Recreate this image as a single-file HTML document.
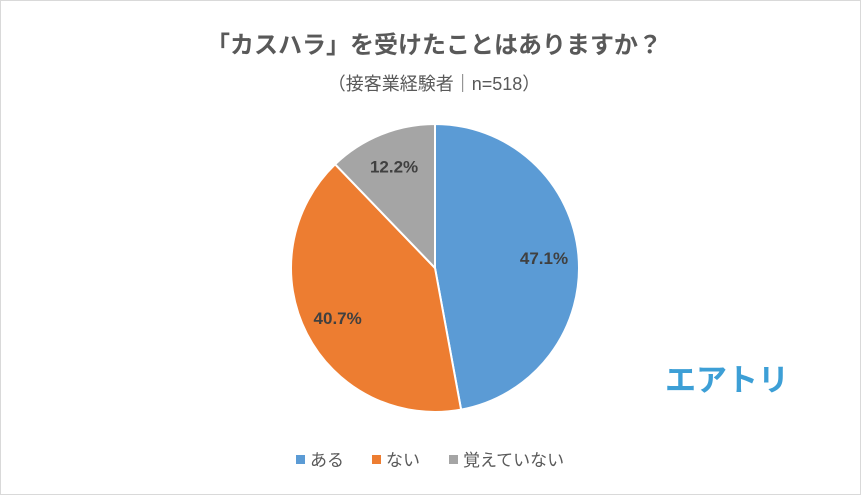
<!DOCTYPE html>
<html><head><meta charset="utf-8"><style>
html,body{margin:0;padding:0;background:#fff;}
svg{display:block;font-family:"Liberation Sans","Noto Sans CJK JP",sans-serif;}
</style></head><body>
<svg id="c" width="861" height="495" viewBox="0 0 861 495">
<rect x="0.5" y="0.5" width="860" height="494" fill="#fff" stroke="#d9d9d9"/>
<text x="434" y="53" text-anchor="middle" font-size="24" font-weight="bold" fill="#595959">「カスハラ」を受けたことはありますか？</text>
<text x="434" y="90" text-anchor="middle" font-size="18" fill="#595959">（接客業経験者｜n=518）</text>
<g id="slices"></g>
<g id="labels"></g>
<g id="legend"></g>
<text x="727" y="391" text-anchor="middle" font-size="31" font-weight="bold" fill="#3d9fd6">エアトリ</text>
</svg>
<script>
const categories=["ある","ない","覚えていない"];
const values=[47.1,40.7,12.2];
const colors=["#5b9bd5","#ed7d31","#a5a5a5"];
const cx=435,cy=268,r=144;
const ns="http://www.w3.org/2000/svg";
const total=values.reduce((a,b)=>a+b,0);
let a0=0;
const sg=document.getElementById('slices'),lg=document.getElementById('labels'),leg=document.getElementById('legend');
function pt(a,rr){return [cx+rr*Math.sin(a),cy-rr*Math.cos(a)];}
values.forEach((v,i)=>{
  const a1=a0+v/total*2*Math.PI;
  const p0=pt(a0,r),p1=pt(a1,r);
  const large=(a1-a0)>Math.PI?1:0;
  const p=document.createElementNS(ns,'path');
  p.setAttribute('d',`M${cx},${cy}L${p0[0]},${p0[1]}A${r},${r} 0 ${large} 1 ${p1[0]},${p1[1]}Z`);
  p.setAttribute('fill',colors[i]);p.setAttribute('stroke','#fff');p.setAttribute('stroke-width','2');
  
  
  sg.appendChild(p);
  const m=(a0+a1)/2,lp=pt(m,r*0.76);
  const t=document.createElementNS(ns,'text');
  t.setAttribute('x',lp[0]);t.setAttribute('y',lp[1]+6);t.setAttribute('text-anchor','middle');
  t.setAttribute('font-size','17');t.setAttribute('font-weight','bold');t.setAttribute('fill','#404040');
  t.textContent=v.toFixed(1)+'%';
  
  
  lg.appendChild(t);
  a0=a1;
});
const lx=[296,372,449];
categories.forEach((c,i)=>{
  const g=document.createElementNS(ns,'g');
  
  
  const s=document.createElementNS(ns,'rect');
  s.setAttribute('x',lx[i]);s.setAttribute('y',455);s.setAttribute('width',9);s.setAttribute('height',9);s.setAttribute('fill',colors[i]);
  const t=document.createElementNS(ns,'text');
  t.setAttribute('x',lx[i]+14);t.setAttribute('y',466);t.setAttribute('font-size','17');t.setAttribute('fill','#595959');
  t.textContent=c;
  g.appendChild(s);g.appendChild(t);leg.appendChild(g);
});
</script>
</body></html>
